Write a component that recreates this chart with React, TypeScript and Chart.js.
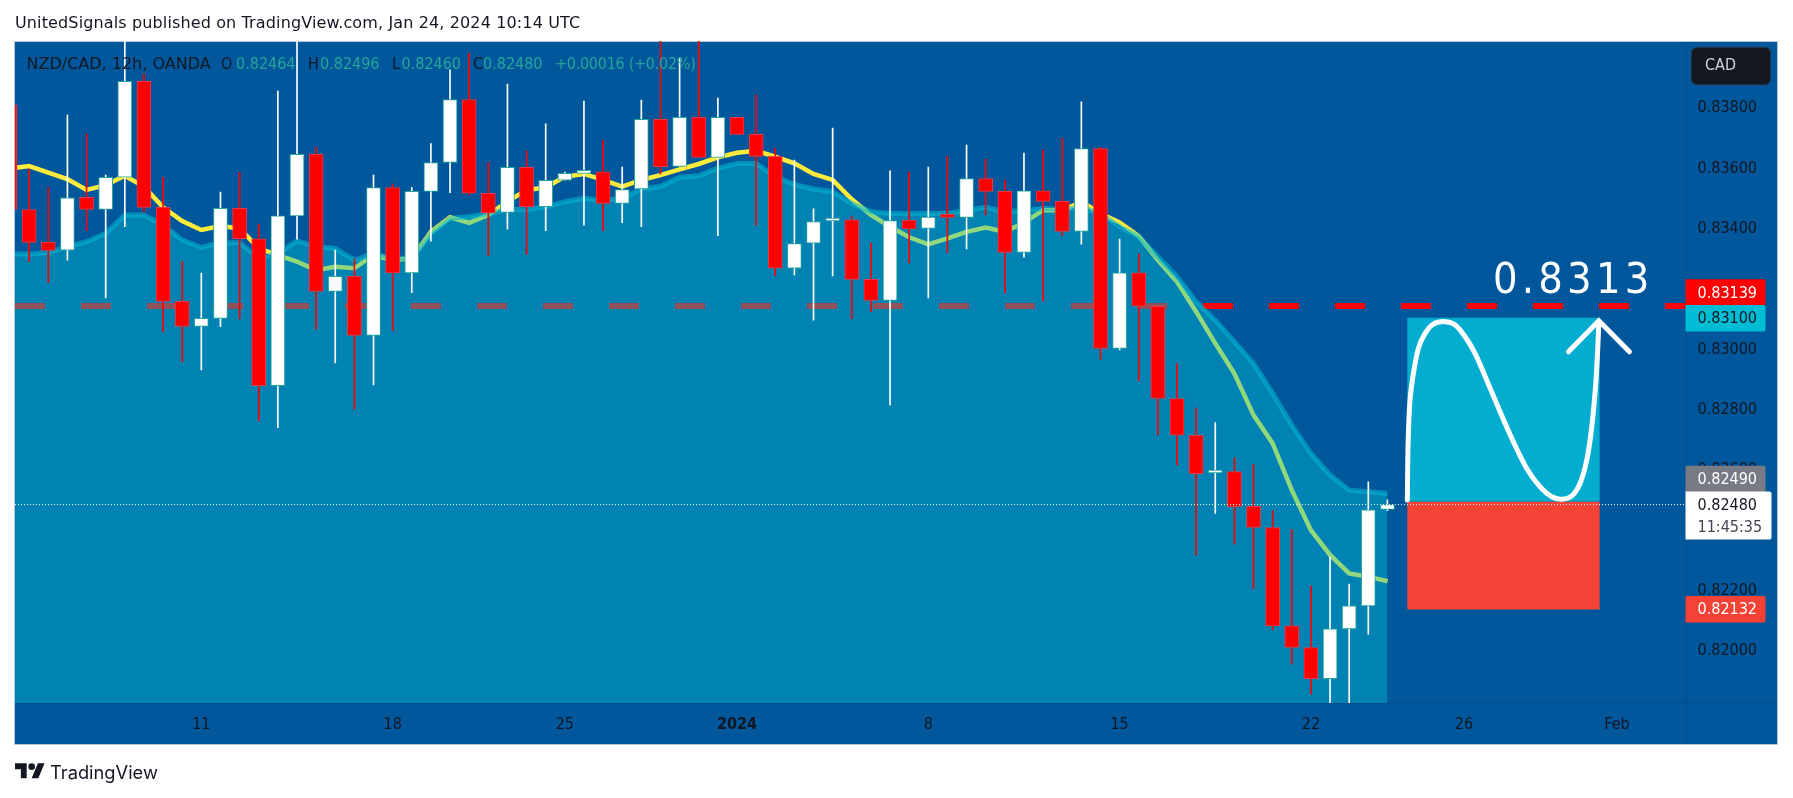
import React, { useEffect, useRef } from 'react';
import { Chart, registerables } from 'chart.js';

Chart.register(...registerables);

const FONT = '"DejaVu Sans Condensed", "DejaVu Sans", sans-serif';
const WIDE_FONT = '"DejaVu Sans", sans-serif';
const INK = '#131722';
const BULL_TEXT = '#26a69a';

// 12h candles, left to right
const opens = [0.83806, 0.83459, 0.8335, 0.83324, 0.83499, 0.83459, 0.83566, 0.83884, 0.83466, 0.83154, 0.83071, 0.83098, 0.83463, 0.83362, 0.82875, 0.83438, 0.83642, 0.83187, 0.83237, 0.83041, 0.83532, 0.83249, 0.83519, 0.83615, 0.83824, 0.83513, 0.83449, 0.83599, 0.83468, 0.83556, 0.83579, 0.83584, 0.83479, 0.83527, 0.83758, 0.83602, 0.83765, 0.83632, 0.83765, 0.83708, 0.83635, 0.83264, 0.83347, 0.83421, 0.83425, 0.83227, 0.83157, 0.83423, 0.83396, 0.83436, 0.83433, 0.83562, 0.83519, 0.83317, 0.83521, 0.83486, 0.83386, 0.83661, 0.82998, 0.83249, 0.83138, 0.82832, 0.8271, 0.82585, 0.8259, 0.82474, 0.82404, 0.82078, 0.82006, 0.81903, 0.82068, 0.82144, 0.82464];
const highs = [0.8383, 0.83593, 0.83532, 0.83772, 0.83709, 0.83573, 0.8406, 0.83908, 0.83566, 0.83286, 0.83248, 0.83517, 0.83583, 0.83411, 0.83852, 0.8406, 0.83666, 0.83324, 0.83294, 0.83573, 0.83544, 0.83532, 0.83678, 0.83922, 0.83977, 0.83615, 0.83875, 0.83653, 0.83743, 0.83583, 0.83819, 0.83689, 0.836, 0.83822, 0.8406, 0.8396, 0.8406, 0.83829, 0.83765, 0.83839, 0.83663, 0.83623, 0.83461, 0.83729, 0.83437, 0.83348, 0.83587, 0.83583, 0.836, 0.83636, 0.83673, 0.83626, 0.83557, 0.83646, 0.83656, 0.83696, 0.83816, 0.83665, 0.83361, 0.83311, 0.83138, 0.82948, 0.828, 0.82752, 0.82635, 0.82614, 0.82459, 0.82397, 0.8221, 0.82307, 0.82216, 0.82556, 0.82496];
const lows = [0.8342, 0.83286, 0.83216, 0.83291, 0.83389, 0.83166, 0.83402, 0.83452, 0.83054, 0.82954, 0.82927, 0.8307, 0.83096, 0.82758, 0.82735, 0.83361, 0.83062, 0.8295, 0.82796, 0.82877, 0.83056, 0.83183, 0.83354, 0.83515, 0.83507, 0.83306, 0.83394, 0.83311, 0.83389, 0.83556, 0.83407, 0.83389, 0.83415, 0.83402, 0.83577, 0.83602, 0.83632, 0.83372, 0.83708, 0.83407, 0.83239, 0.83242, 0.83092, 0.83239, 0.83097, 0.8312, 0.8281, 0.83282, 0.83166, 0.83316, 0.83328, 0.83441, 0.83182, 0.83301, 0.83155, 0.83371, 0.83344, 0.82962, 0.82993, 0.82891, 0.82711, 0.82611, 0.82313, 0.82451, 0.82349, 0.82201, 0.82064, 0.81951, 0.81851, 0.817, 0.817, 0.8205, 0.8246];
const closes = [0.83459, 0.8335, 0.83323, 0.83498, 0.83459, 0.83566, 0.83884, 0.83466, 0.83154, 0.83071, 0.83098, 0.83463, 0.83362, 0.82875, 0.83438, 0.83642, 0.83187, 0.83237, 0.83041, 0.83532, 0.83249, 0.83519, 0.83615, 0.83824, 0.83513, 0.83448, 0.83599, 0.83468, 0.83556, 0.83579, 0.83586, 0.83479, 0.83525, 0.83758, 0.83601, 0.83765, 0.83632, 0.83765, 0.83708, 0.83635, 0.83264, 0.83346, 0.83419, 0.83425, 0.83227, 0.83157, 0.83422, 0.83395, 0.83434, 0.83433, 0.83562, 0.83519, 0.83317, 0.83521, 0.83486, 0.83386, 0.83661, 0.82998, 0.83249, 0.83138, 0.82832, 0.8271, 0.82583, 0.82588, 0.82473, 0.82404, 0.82078, 0.82006, 0.81903, 0.82068, 0.82144, 0.82463, 0.8248];

// moving average drawn as a line, and the same kind of study as a shaded area
const maLine = [0.83595, 0.83603, 0.83581, 0.8356, 0.83524, 0.8354, 0.83571, 0.83535, 0.83466, 0.83421, 0.83391, 0.83404, 0.83396, 0.8333, 0.83308, 0.83286, 0.83258, 0.83269, 0.83264, 0.83308, 0.83291, 0.83297, 0.83385, 0.83433, 0.83415, 0.83441, 0.83485, 0.83524, 0.83532, 0.83568, 0.83577, 0.83557, 0.83535, 0.83557, 0.83573, 0.83592, 0.8361, 0.83632, 0.83647, 0.83654, 0.83634, 0.83612, 0.83577, 0.83557, 0.83493, 0.83441, 0.83402, 0.83367, 0.83343, 0.83363, 0.83385, 0.83399, 0.83385, 0.83415, 0.83457, 0.83455, 0.83485, 0.83446, 0.83416, 0.83371, 0.83291, 0.83219, 0.8312, 0.83015, 0.82915, 0.82777, 0.82683, 0.82528, 0.82395, 0.82313, 0.82252, 0.82241, 0.82226];
const maArea = [0.83311, 0.83311, 0.83316, 0.83336, 0.83352, 0.8338, 0.83441, 0.83441, 0.83407, 0.83358, 0.83333, 0.83349, 0.83349, 0.83297, 0.83313, 0.83355, 0.83336, 0.8333, 0.83291, 0.83313, 0.83297, 0.83297, 0.8338, 0.8343, 0.83435, 0.83446, 0.83459, 0.83459, 0.83468, 0.83485, 0.83496, 0.8349, 0.83496, 0.83527, 0.83535, 0.83566, 0.83571, 0.83596, 0.83612, 0.83612, 0.83568, 0.83542, 0.83527, 0.83518, 0.83479, 0.83452, 0.83446, 0.83446, 0.83446, 0.83446, 0.83457, 0.83466, 0.83452, 0.83455, 0.83463, 0.83459, 0.83466, 0.83446, 0.83402, 0.83369, 0.83302, 0.83236, 0.83153, 0.83092, 0.8302, 0.82948, 0.82849, 0.82744, 0.8265, 0.82578, 0.82528, 0.82523, 0.82517];

const resistance = 0.83139;
const lastClose = 0.8248;

// long position drawing
const positionSpan = [73.03, 83.1];
const targetPrice = 0.831;
const entryPrice = 0.8249;
const stopPrice = 0.82132;

// hand drawn curve and arrow head on top of it
const brushX = [73.04, 73.08, 73.18, 73.36, 73.62, 73.97, 74.4, 75.01, 75.54, 76.06, 76.58, 77.19, 77.89, 78.58, 79.28, 79.98, 80.59, 81.11, 81.64, 82.07, 82.42, 82.68, 82.89, 82.99, 83.05];
const brushY = [0.82495, 0.82683, 0.82827, 0.82916, 0.82999, 0.83048, 0.83079, 0.83087, 0.83076, 0.83037, 0.82982, 0.82893, 0.82788, 0.82689, 0.826, 0.82539, 0.82506, 0.82498, 0.82509, 0.82551, 0.82628, 0.82738, 0.82882, 0.82993, 0.83087];
const arrowX = [81.46, 83.05, 84.65];
const arrowY = [0.82987, 0.8309, 0.82987];

const timeTicks = [10, 20, 29, 38, 48, 58, 68, 76, 84];
const timeLabels = ['11', '18', '25', '2024', '8', '15', '22', '26', 'Feb'];
const priceTicks = [0.82, 0.822, 0.824, 0.826, 0.828, 0.83, 0.832, 0.834, 0.836, 0.838];

const X_MIN = 0.26;
const X_MAX = 87.58;
const Y_MIN = 0.818219;
const Y_MAX = 0.84018;

const bars = opens.map((_, i) => i);

const xy = (xs: number[], ys: number[]) => xs.map((x, i) => ({ x, y: ys[i] }));

const priceTags = [
  { value: resistance, shift: -13.5, bg: '#ff0000', fg: '#ffffff', text: '0.83139' },
  { value: targetPrice, shift: 0.5, bg: '#00bcd4', fg: INK, text: '0.83100' },
  { value: entryPrice, shift: -22.5, bg: '#787b86', fg: '#ffffff', text: '0.82490' },
  { value: stopPrice, shift: -0.2, bg: '#f44336', fg: '#ffffff', text: '0.82132' },
];

const roundTag = (ctx: CanvasRenderingContext2D, x: number, y: number, w: number, h: number, bg: string) => {
  ctx.fillStyle = bg;
  ctx.beginPath();
  ctx.roundRect(x, y, w, h, [0, 2, 2, 0]);
  ctx.fill();
};

// panel background, separators
const panelPlugin = {
  id: 'panel',
  beforeDraw(chart: any) {
    const { ctx, chartArea } = chart;
    ctx.save();
    ctx.fillStyle = '#01579b';
    ctx.fillRect(15, 41, 1762.5, 703);
    ctx.strokeStyle = '#b9c6d6';
    ctx.lineWidth = 1;
    ctx.strokeRect(14.5, 41.5, 1763, 703);
    ctx.strokeStyle = 'rgba(19,23,34,0.12)';
    ctx.beginPath();
    ctx.moveTo(chartArea.right + 0.5, 42);
    ctx.lineTo(chartArea.right + 0.5, 744);
    ctx.moveTo(15, chartArea.bottom + 0.5);
    ctx.lineTo(1777, chartArea.bottom + 0.5);
    ctx.stroke();
    ctx.restore();

    // price labels sit a little under the middle of their tick
    chart.scales.y.getLabelItems().forEach((item: any) => {
      if (!item.moved) {
        item.options.translation[1] += 1.5;
        item.moved = true;
      }
    });
  },
};

// price labels on the right axis
const tagsPlugin = {
  id: 'tags',
  afterDraw(chart: any) {
    const { ctx, chartArea, scales } = chart;
    const left = chartArea.right;
    ctx.save();
    ctx.font = `16px ${FONT}`;
    ctx.textBaseline = 'middle';
    ctx.textAlign = 'left';
    priceTags.forEach((t) => {
      const y = scales.y.getPixelForValue(t.value) + t.shift;
      roundTag(ctx, left, y - 13.3, 80, 26.6, t.bg);
      ctx.fillStyle = t.fg;
      ctx.fillText(t.text, left + 12, y + 1);
    });
    const y = scales.y.getPixelForValue(lastClose);
    roundTag(ctx, left, y - 13, 86, 48, '#ffffff');
    ctx.fillStyle = INK;
    ctx.fillText('0.82480', left + 12, y + 1);
    ctx.fillStyle = '#434651';
    ctx.fillText('11:45:35', left + 12, y + 23);
    ctx.restore();
  },
};

const legendParts = [
  { text: 'NZD/CAD, 12h, OANDA', left: 26.5, color: INK, family: WIDE_FONT, spacing: 0 },
  { text: 'O', left: 221, color: INK, family: FONT, spacing: 0 },
  { text: '0.82464', left: 236, color: BULL_TEXT, family: FONT, spacing: 0 },
  { text: 'H', left: 308, color: INK, family: FONT, spacing: 0 },
  { text: '0.82496', left: 320, color: BULL_TEXT, family: FONT, spacing: 0 },
  { text: 'L', left: 392, color: INK, family: FONT, spacing: 0 },
  { text: '0.82460', left: 401.5, color: BULL_TEXT, family: FONT, spacing: 0 },
  { text: 'C', left: 473, color: INK, family: FONT, spacing: 0 },
  { text: '0.82480', left: 483, color: BULL_TEXT, family: FONT, spacing: 0 },
  { text: '+0.00016 (+0.02%)', left: 555, color: BULL_TEXT, family: FONT, spacing: -0.27 },
];

const Label: React.FC<{ left: number; mid: number; size?: number; color?: string; spacing?: number; family?: string; children: React.ReactNode }> = ({
  left,
  mid,
  size = 16,
  color = INK,
  spacing = 0,
  family = FONT,
  children,
}) => (
  <div
    style={{
      position: 'absolute',
      left,
      top: mid - size,
      height: size * 2,
      lineHeight: `${size * 2}px`,
      fontFamily: family,
      fontSize: size,
      color,
      letterSpacing: spacing,
      whiteSpace: 'nowrap',
    }}
  >
    {children}
  </div>
);

const App: React.FC = () => {
  const chartRef = useRef<HTMLCanvasElement>(null);

  useEffect(() => {
    const rising = (i: number) => closes[i] >= opens[i];
    const chart = new Chart(chartRef.current!, {
      type: 'bar',
      data: {
        datasets: [
          // bodies
          {
            type: 'bar',
            order: 1,
            data: bars.map((i) => ({ x: i, y: [opens[i], closes[i]] })),
            barThickness: 14,
            minBarLength: 3,
            grouped: false,
            borderSkipped: false,
            borderWidth: 1,
            backgroundColor: bars.map((i) => (rising(i) ? '#ffffff' : '#ff0000')),
            borderColor: bars.map((i) => (rising(i) ? '#26a69a' : '#f23645')),
          },
          // wicks
          {
            type: 'bar',
            order: 2,
            data: bars.map((i) => ({ x: i, y: [lows[i], highs[i]] })),
            barThickness: 1,
            grouped: false,
            borderWidth: 0,
            backgroundColor: bars.map((i) => (rising(i) ? '#ffffff' : '#ff0000')),
          },
          // last price
          {
            type: 'line',
            order: 0,
            data: xy([X_MIN, X_MAX], [lastClose, lastClose]),
            borderColor: '#ffffff',
            borderWidth: 1,
            borderDash: [1, 2],
            pointRadius: 0,
          },
          // curve over the position
          {
            type: 'line',
            order: 0,
            data: xy(brushX, brushY),
            borderColor: '#ffffff',
            borderWidth: 5,
            borderCapStyle: 'round',
            tension: 0.3,
            pointRadius: 0,
          },
          {
            type: 'line',
            order: 0,
            data: xy(arrowX, arrowY),
            borderColor: '#ffffff',
            borderWidth: 5,
            borderCapStyle: 'round',
            pointRadius: 0,
          },
          // target and stop zones
          {
            type: 'line',
            order: 3,
            data: xy(positionSpan, [targetPrice, targetPrice]),
            borderWidth: 0,
            pointRadius: 0,
            fill: { value: entryPrice },
            backgroundColor: '#03adcf',
          },
          {
            type: 'line',
            order: 3,
            data: xy(positionSpan, [entryPrice, entryPrice]),
            borderWidth: 0,
            pointRadius: 0,
            fill: { value: stopPrice },
            backgroundColor: '#f44336',
          },
          // shaded study, painted over the yellow line so it turns green inside
          {
            type: 'line',
            order: 4,
            data: xy(bars, maArea),
            borderColor: 'rgba(0,188,212,0.55)',
            borderWidth: 5,
            pointRadius: 0,
            fill: 'start',
            backgroundColor: 'rgba(0,188,212,0.43)',
          },
          {
            type: 'line',
            order: 5,
            data: xy(bars, maLine),
            borderColor: '#ffeb3b',
            borderWidth: 4.5,
            pointRadius: 0,
          },
          {
            type: 'line',
            order: 6,
            data: xy([X_MIN, X_MAX], [resistance, resistance]),
            borderColor: '#ff0000',
            borderWidth: 6,
            borderDash: [30, 36],
            pointRadius: 0,
          },
        ],
      } as any,
      options: {
        animation: false,
        responsive: false,
        devicePixelRatio: 1,
        layout: { padding: { left: 15, top: 41, right: 16, bottom: 54 } },
        plugins: { legend: { display: false }, tooltip: { enabled: false }, title: { display: false } },
        scales: {
          x: {
            type: 'linear',
            offset: false,
            min: X_MIN,
            max: X_MAX,
            grid: { display: false, drawTicks: false },
            border: { display: false },
            afterFit: (s: any) => {
              s.height = 41;
            },
            afterBuildTicks: (s: any) => {
              s.ticks = timeTicks.map((value) => ({ value }));
            },
            ticks: {
              autoSkip: false,
              maxRotation: 0,
              padding: 12,
              color: INK,
              font: (ctx: any) => ({
                family: FONT,
                size: 16,
                weight: ctx.tick && ctx.tick.value === 38 ? 'bold' : 'normal',
              }),
              callback: (v: any) => timeLabels[timeTicks.indexOf(v)],
            },
          },
          y: {
            type: 'linear',
            position: 'right',
            min: Y_MIN,
            max: Y_MAX,
            grid: { display: false, drawTicks: false },
            border: { display: false },
            afterFit: (s: any) => {
              s.width = 91.5;
            },
            afterBuildTicks: (s: any) => {
              s.ticks = priceTicks.map((value) => ({ value }));
            },
            ticks: {
              autoSkip: false,
              padding: 12,
              color: INK,
              font: { family: FONT, size: 16 },
              callback: (v: any) => Number(v).toFixed(5),
            },
          },
        },
      },
      plugins: [panelPlugin, tagsPlugin],
    } as any);

    return () => {
      chart.destroy();
    };
  }, []);

  return (
    <div style={{ position: 'absolute', left: 0, top: 0, width: 1793, height: 798, overflow: 'hidden', background: '#ffffff' }}>
      <canvas ref={chartRef} width={1793} height={798} style={{ position: 'absolute', left: 0, top: 0 }} />
      <Label left={15} mid={22.5} family={WIDE_FONT} spacing={0.13}>UnitedSignals published on TradingView.com, Jan 24, 2024 10:14 UTC</Label>
      {legendParts.map((p) => (
        <Label key={p.text} left={p.left} mid={63.5} color={p.color} family={p.family} spacing={p.spacing}>
          {p.text}
        </Label>
      ))}
      <Label left={1493} mid={277.5} size={43} color="#ffffff" spacing={4.2}>0.8313</Label>
      <div
        style={{
          position: 'absolute',
          left: 1691,
          top: 47,
          width: 79.5,
          height: 37.5,
          boxSizing: 'border-box',
          background: '#131722',
          border: '1px solid #2a2e39',
          borderRadius: 6,
        }}
      />
      <Label left={1705} mid={65} color="#d1d4dc">CAD</Label>
      <svg style={{ position: 'absolute', left: 15, top: 759.7 }} width={30} height={23.3} viewBox="0 0 36 28">
        <path d="M14 22H7V11H0V4h14v18zM28 22h-8l7.5-18h8L28 22z" fill={INK} />
        <circle cx={20} cy={8} r={4} fill={INK} />
      </svg>
      <Label left={50} mid={772.5} size={18.3} family="Inter, sans-serif">TradingView</Label>
    </div>
  );
};

export default App;
